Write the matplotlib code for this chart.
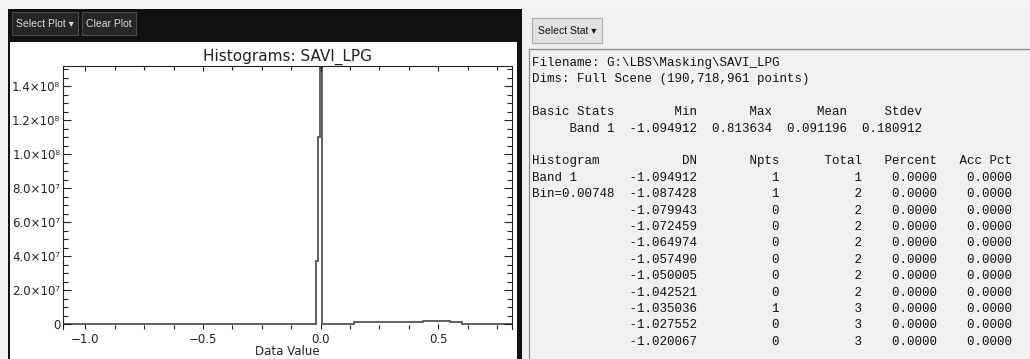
import numpy as np
import matplotlib.pyplot as plt
from matplotlib.patches import Rectangle
from matplotlib.ticker import MultipleLocator, FuncFormatter

# histogram outline: step edges and counts
hist_edges = [-1.094912, -0.0178, -0.0103, -0.0028, 0.0047, 0.14, 0.434, 0.549, 0.60, 0.813634]
hist_counts = [0, 3.7e7, 1.1e8, 1.518e8, 1.0e5, 1.0e6, 1.8e6, 1.0e6, 1.5e5]

# stats report
file_name = r"G:\LBS\Masking\SAVI_LPG"
n_points = 190718961
stat_names = ["Min", "Max", "Mean", "Stdev"]
band1_stats = [-1.094912, 0.813634, 0.091196, 0.180912]
bin_size = 0.00748
dn_values = [-1.094912, -1.087428, -1.079943, -1.072459, -1.064974, -1.057490,
             -1.050005, -1.042521, -1.035036, -1.027552, -1.020067]
npts = [1, 1, 0, 0, 0, 0, 0, 0, 1, 0, 0]
totals = [1, 2, 2, 2, 2, 2, 2, 2, 3, 3, 3]
percent = [0.0, 0.0, 0.0, 0.0, 0.0, 0.0, 0.0, 0.0, 0.0, 0.0, 0.0]
acc_pct = [0.0, 0.0, 0.0, 0.0, 0.0, 0.0, 0.0, 0.0, 0.0, 0.0, 0.0]

W, H = 1030, 359
fig = plt.figure(figsize=[W / 100, H / 100], dpi=100, facecolor="#f0f0f0")


def box(x0, y0, x1, y1, **kw):
    kw.setdefault("zorder", -1)
    kw.setdefault("linewidth", 0)
    fig.add_artist(Rectangle((x0 / W, 1 - y1 / H), (x1 - x0) / W, (y1 - y0) / H,
                             transform=fig.transFigure, **kw))


def px_text(x, y, s, **kw):
    fig.text(x / W, 1 - y / H, s, **kw)


# window chrome
box(0, 0, W, 9, facecolor="#f4f4f4")
box(8, 9, 522, 42, facecolor="#111111")
box(8, 42, 522, H, facecolor="#111111")
box(10, 42, 517, H, facecolor="white")
box(12, 12, 78, 35, facecolor="#262626", edgecolor="#4a4a4a", linewidth=0.8)
box(82, 12, 136, 35, facecolor="#262626", edgecolor="#4a4a4a", linewidth=0.8)
btn_font = ["Liberation Sans", "DejaVu Sans"]
px_text(45, 24, "Select Plot \u25be", color="#dddddd", fontsize=7.5, family=btn_font, ha="center", va="center")
px_text(109, 24, "Clear Plot", color="#dddddd", fontsize=7.5, family=btn_font, ha="center", va="center")

box(532, 18, 602, 43, facecolor="#e1e1e1", edgecolor="#adadad", linewidth=0.8)
px_text(567, 30.5, "Select Stat \u25be", color="#111111", fontsize=7.5, family=btn_font, ha="center", va="center")
box(529, 49, W + 5, H + 5, facecolor="#f0f0f0", edgecolor="#8a8a8a", linewidth=0.9)

# histogram plot
ax = fig.add_axes([63 / W, 1 - 329 / H, (512 - 63) / W, (329 - 66) / H])
ax.set_facecolor("white")
ax.stairs(hist_counts, hist_edges, baseline=0, color="#555555", linewidth=1.3)
ax.set_xlim(hist_edges[0], hist_edges[-1])
ax.set_ylim(-2.94e6, max(hist_counts))

for side in ["left", "right", "top"]:
    ax.spines[side].set_color("#222222")
    ax.spines[side].set_linewidth(0.8)
ax.spines["bottom"].set_visible(False)

sup = str.maketrans("0123456789-", "\u2070\u00b9\u00b2\u00b3\u2074\u2075\u2076\u2077\u2078\u2079\u207b")


def sci_label(v, pos):
    if abs(v) < 1:
        return "0"
    e = int(np.floor(np.log10(abs(v))))
    return "{:.1f}\u00d710{}".format(v / 10 ** e, str(e).translate(sup))


ax.xaxis.set_major_locator(MultipleLocator(0.5))
ax.xaxis.set_minor_locator(MultipleLocator(0.125))
ax.yaxis.set_major_locator(MultipleLocator(2e7))
ax.yaxis.set_minor_locator(MultipleLocator(5e6))
ax.yaxis.set_major_formatter(FuncFormatter(sci_label))
ax.xaxis.set_major_formatter(FuncFormatter(lambda v, p: "{:.1f}".format(v).replace("-", "\u2212")))
ax.tick_params(axis="x", which="both", direction="in", top=True, bottom=True,
               colors="#222222", labelsize=8.5, pad=3)
ax.tick_params(axis="x", which="major", length=3.4, width=0.8)
ax.tick_params(axis="x", which="minor", length=2.6, width=0.8)
ax.tick_params(axis="y", which="both", direction="in", left=True, right=True,
               colors="#222222", labelsize=8.5, pad=2)
ax.tick_params(axis="y", which="major", length=6, width=0.8)
ax.tick_params(axis="y", which="minor", length=3.4, width=0.8)
ax.set_title("Histograms: SAVI_LPG", fontsize=11, color="#222222", pad=4)
ax.set_xlabel("Data Value", fontsize=8.5, color="#222222", labelpad=-1)

# stats text report
lines = ["Filename: " + file_name,
         "Dims: Full Scene ({:,} points)".format(n_points),
         "",
         "Basic Stats" + "{:>11}".format(stat_names[0]) + "".join("{:>10}".format(s) for s in stat_names[1:]),
         "     Band 1" + "{:11.6f}".format(band1_stats[0]) + "".join("{:10.6f}".format(v) for v in band1_stats[1:]),
         "",
         "Histogram  " + "{:>11}{:>11}{:>11}{:>10}{:>10}".format("DN", "Npts", "Total", "Percent", "Acc Pct")]
row_labels = ["Band 1", "Bin={:.5f}".format(bin_size)] + [""] * (len(dn_values) - 2)
for lab, dn, n, t, p, a in zip(row_labels, dn_values, npts, totals, percent, acc_pct):
    lines.append("{:<11}{:11.6f}{:11d}{:11d}{:10.4f}{:10.4f}".format(lab, dn, n, t, p, a))

for i, line in enumerate(lines):
    px_text(532, 63 + i * 16.4, line, family="Liberation Mono", fontsize=9,
            color="#111111", ha="left", va="center")

fig.savefig("out.png", dpi=100, facecolor=fig.get_facecolor())
